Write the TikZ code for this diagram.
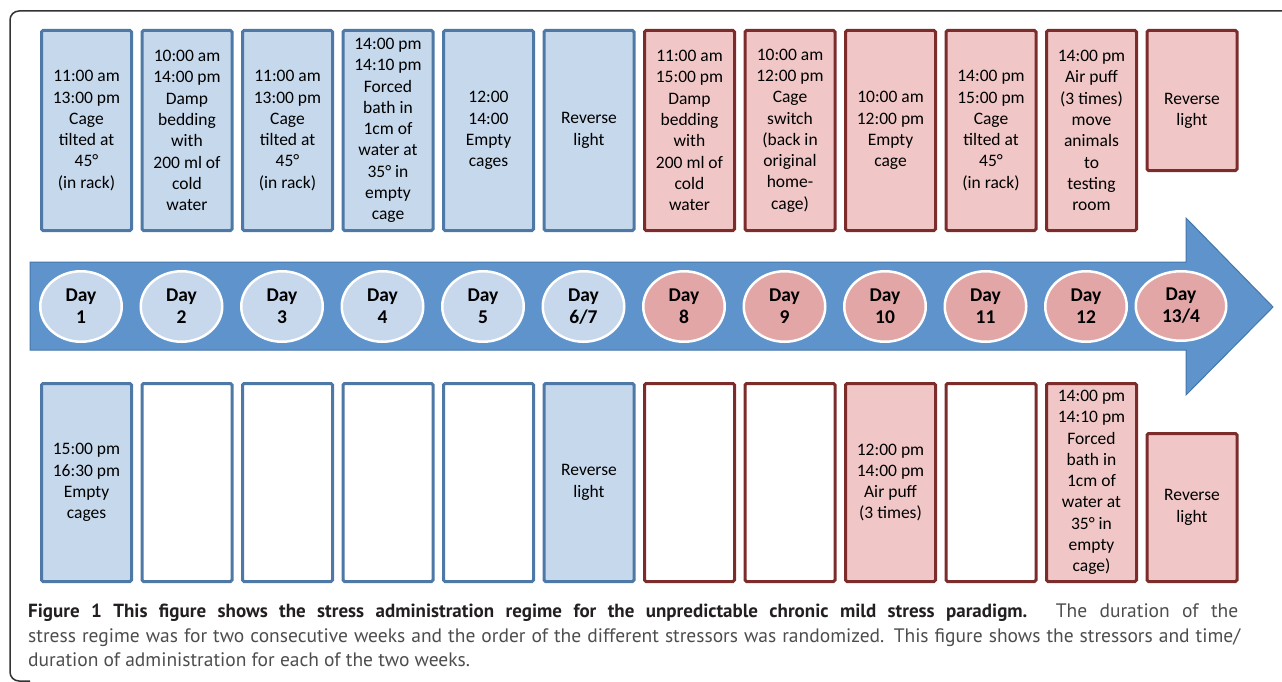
\documentclass[tikz,border=0pt]{standalone}
\usepackage{fontspec}
\setmainfont{Carlito}
\newfontfamily\capfont{PT Sans}
\usetikzlibrary{shapes.geometric}
\definecolor{bfill}{HTML}{C6D8EC}
\definecolor{bdraw}{HTML}{4E79A7}
\definecolor{rfill}{HTML}{F0C6C6}
\definecolor{rdraw}{HTML}{7D2C2C}
\definecolor{bday}{HTML}{C7D8EC}
\definecolor{rday}{HTML}{E3A6A6}
\definecolor{arrowfill}{HTML}{5E93CB}
\definecolor{arrowdraw}{HTML}{4577AA}
\definecolor{framecol}{HTML}{333333}
\definecolor{capdark}{HTML}{231F20}
\definecolor{capgray}{HTML}{4D4D4F}
\tikzset{
  box/.style={draw, line width=3pt, rounded corners=1.5pt, minimum width=90pt,
    align=center, inner sep=0pt, font=\fontsize{17.5}{21.3}\selectfont, text=black},
  bbox/.style={box, draw=bdraw, fill=bfill},
  bempty/.style={box, draw=bdraw, fill=white},
  rbox/.style={box, draw=rdraw, fill=rfill},
  rempty/.style={box, draw=rdraw, fill=white},
  tall/.style={minimum height=200pt},
  low/.style={minimum height=198pt},
  dayc/.style={ellipse, draw=white, line width=2.5pt, minimum width=81.5pt,
    minimum height=70.5pt, inner sep=0pt, align=center,
    font=\bfseries\fontsize{19.5}{22}\selectfont},
  bdayc/.style={dayc, fill=bday},
  rdayc/.style={dayc, fill=rday},
  captext/.style={anchor=base west, inner sep=0pt, font=\capfont\fontsize{19.5}{24}\selectfont}
}
\begin{document}
\begin{tikzpicture}[x=1pt, y=-1pt]
\useasboundingbox (0,0) rectangle (1282,682);
% frame
\draw[framecol, line width=1.5pt, rounded corners=9pt] (1290,11) -- (10,11) -- (10,681) -- (30,681);
% arrow
\draw[fill=arrowfill, draw=arrowdraw, line width=1pt]
  (30,262) -- (1186,262) -- (1186,218) -- (1273,307) -- (1186,395) -- (1186,350) -- (30,350) -- cycle;
% day circles
\node[bdayc] (d1) at (81,306.5) {Day\\1};
\node[bdayc] (d2) at (181.5,306.5) {Day\\2};
\node[bdayc] (d3) at (282,306.5) {Day\\3};
\node[bdayc] (d4) at (382.5,306.5) {Day\\4};
\node[bdayc] (d5) at (483,306.5) {Day\\5};
\node[bdayc] (d6) at (583.5,306.5) {Day\\6/7};
\node[rdayc] (d8) at (684,306.5) {Day\\8};
\node[rdayc] (d9) at (784.5,306.5) {Day\\9};
\node[rdayc] (d10) at (885,306.5) {Day\\10};
\node[rdayc] (d11) at (985.5,306.5) {Day\\11};
\node[rdayc] (d12) at (1086,306.5) {Day\\12};
\node[rdayc, minimum width=90.5pt, minimum height=69.5pt] (d13) at (1181,306) {Day\\13/4};
% top boxes
\node[bbox, tall] (t1) at (86.5,130.5) {11:00 am\\13:00 pm\\Cage\\tilted at\\45°\\(in rack)};
\node[bbox, tall] (t2) at (187,130.5) {10:00 am\\14:00 pm\\Damp\\bedding\\with\\200 ml of\\cold\\water};
\node[bbox, tall] (t3) at (287.5,130.5) {11:00 am\\13:00 pm\\Cage\\tilted at\\45°\\(in rack)};
\node[bbox, tall] (t4) at (388,130.5) {14:00 pm\\14:10 pm\\Forced\\bath in\\1cm of\\water at\\35° in\\empty\\cage};
\node[bbox, tall] (t5) at (488.5,130.5) {12:00\\14:00\\Empty\\cages};
\node[bbox, tall] (t6) at (589,130.5) {Reverse\\light};
\node[rbox, tall] (t7) at (689.5,130.5) {11:00 am\\15:00 pm\\Damp\\bedding\\with\\200 ml of\\cold\\water};
\node[rbox, tall] (t8) at (790,130.5) {10:00 am\\12:00 pm\\Cage\\switch\\(back in\\original\\home-\\cage)};
\node[rbox, tall] (t9) at (890.5,130.5) {10:00 am\\12:00 pm\\Empty\\cage};
\node[rbox, tall] (t10) at (991,130.5) {14:00 pm\\15:00 pm\\Cage\\tilted at\\45°\\(in rack)};
\node[rbox, tall] (t11) at (1091.5,130.5) {14:00 pm\\Air puff\\(3 times)\\move\\animals\\to\\testing\\room};
\node[rbox, minimum height=140pt] (t12) at (1192,100.5) {};
\node[align=center, inner sep=0pt, font=\fontsize{17.5}{21.3}\selectfont] (t12txt) at (1192,111) {Reverse\\light};
% bottom boxes
\node[bbox, low] (b1) at (86.5,482.5) {15:00 pm\\16:30 pm\\Empty\\cages};
\node[bempty, low] (b2) at (187,482.5) {};
\node[bempty, low] (b3) at (287.5,482.5) {};
\node[bempty, low] (b4) at (388,482.5) {};
\node[bempty, low] (b5) at (488.5,482.5) {};
\node[bbox, low] (b6) at (589,482.5) {Reverse\\light};
\node[rempty, low] (b7) at (689.5,482.5) {};
\node[rempty, low] (b8) at (790,482.5) {};
\node[rbox, low] (b9) at (890.5,482.5) {12:00 pm\\14:00 pm\\Air puff\\(3 times)};
\node[rempty, low] (b10) at (991,482.5) {};
\node[rbox, low] (b11) at (1091.5,482.5) {14:00 pm\\14:10 pm\\Forced\\bath in\\1cm of\\water at\\35° in\\empty\\cage)};
\node[rbox, minimum height=148pt] (b12) at (1192,507.5) {Reverse\\light};
% caption
\node[captext] (cap1) at (28,617) {\hbox to 1210pt{{\bfseries\color{capdark}\fontsize{19}{24}\selectfont Figure 1 This figure shows the stress administration regime for the unpredictable chronic mild stress paradigm.} {\color{capgray}The duration of the}}};
\node[captext, text=capgray] (cap2) at (28,642) {\hbox to 1212pt{stress regime was for two consecutive weeks and the order of the different stressors was randomized. This figure shows the stressors and time/}};
\node[captext, text=capgray] (cap3) at (28,666) {duration of administration for each of the two weeks.};
\end{tikzpicture}
\end{document}
